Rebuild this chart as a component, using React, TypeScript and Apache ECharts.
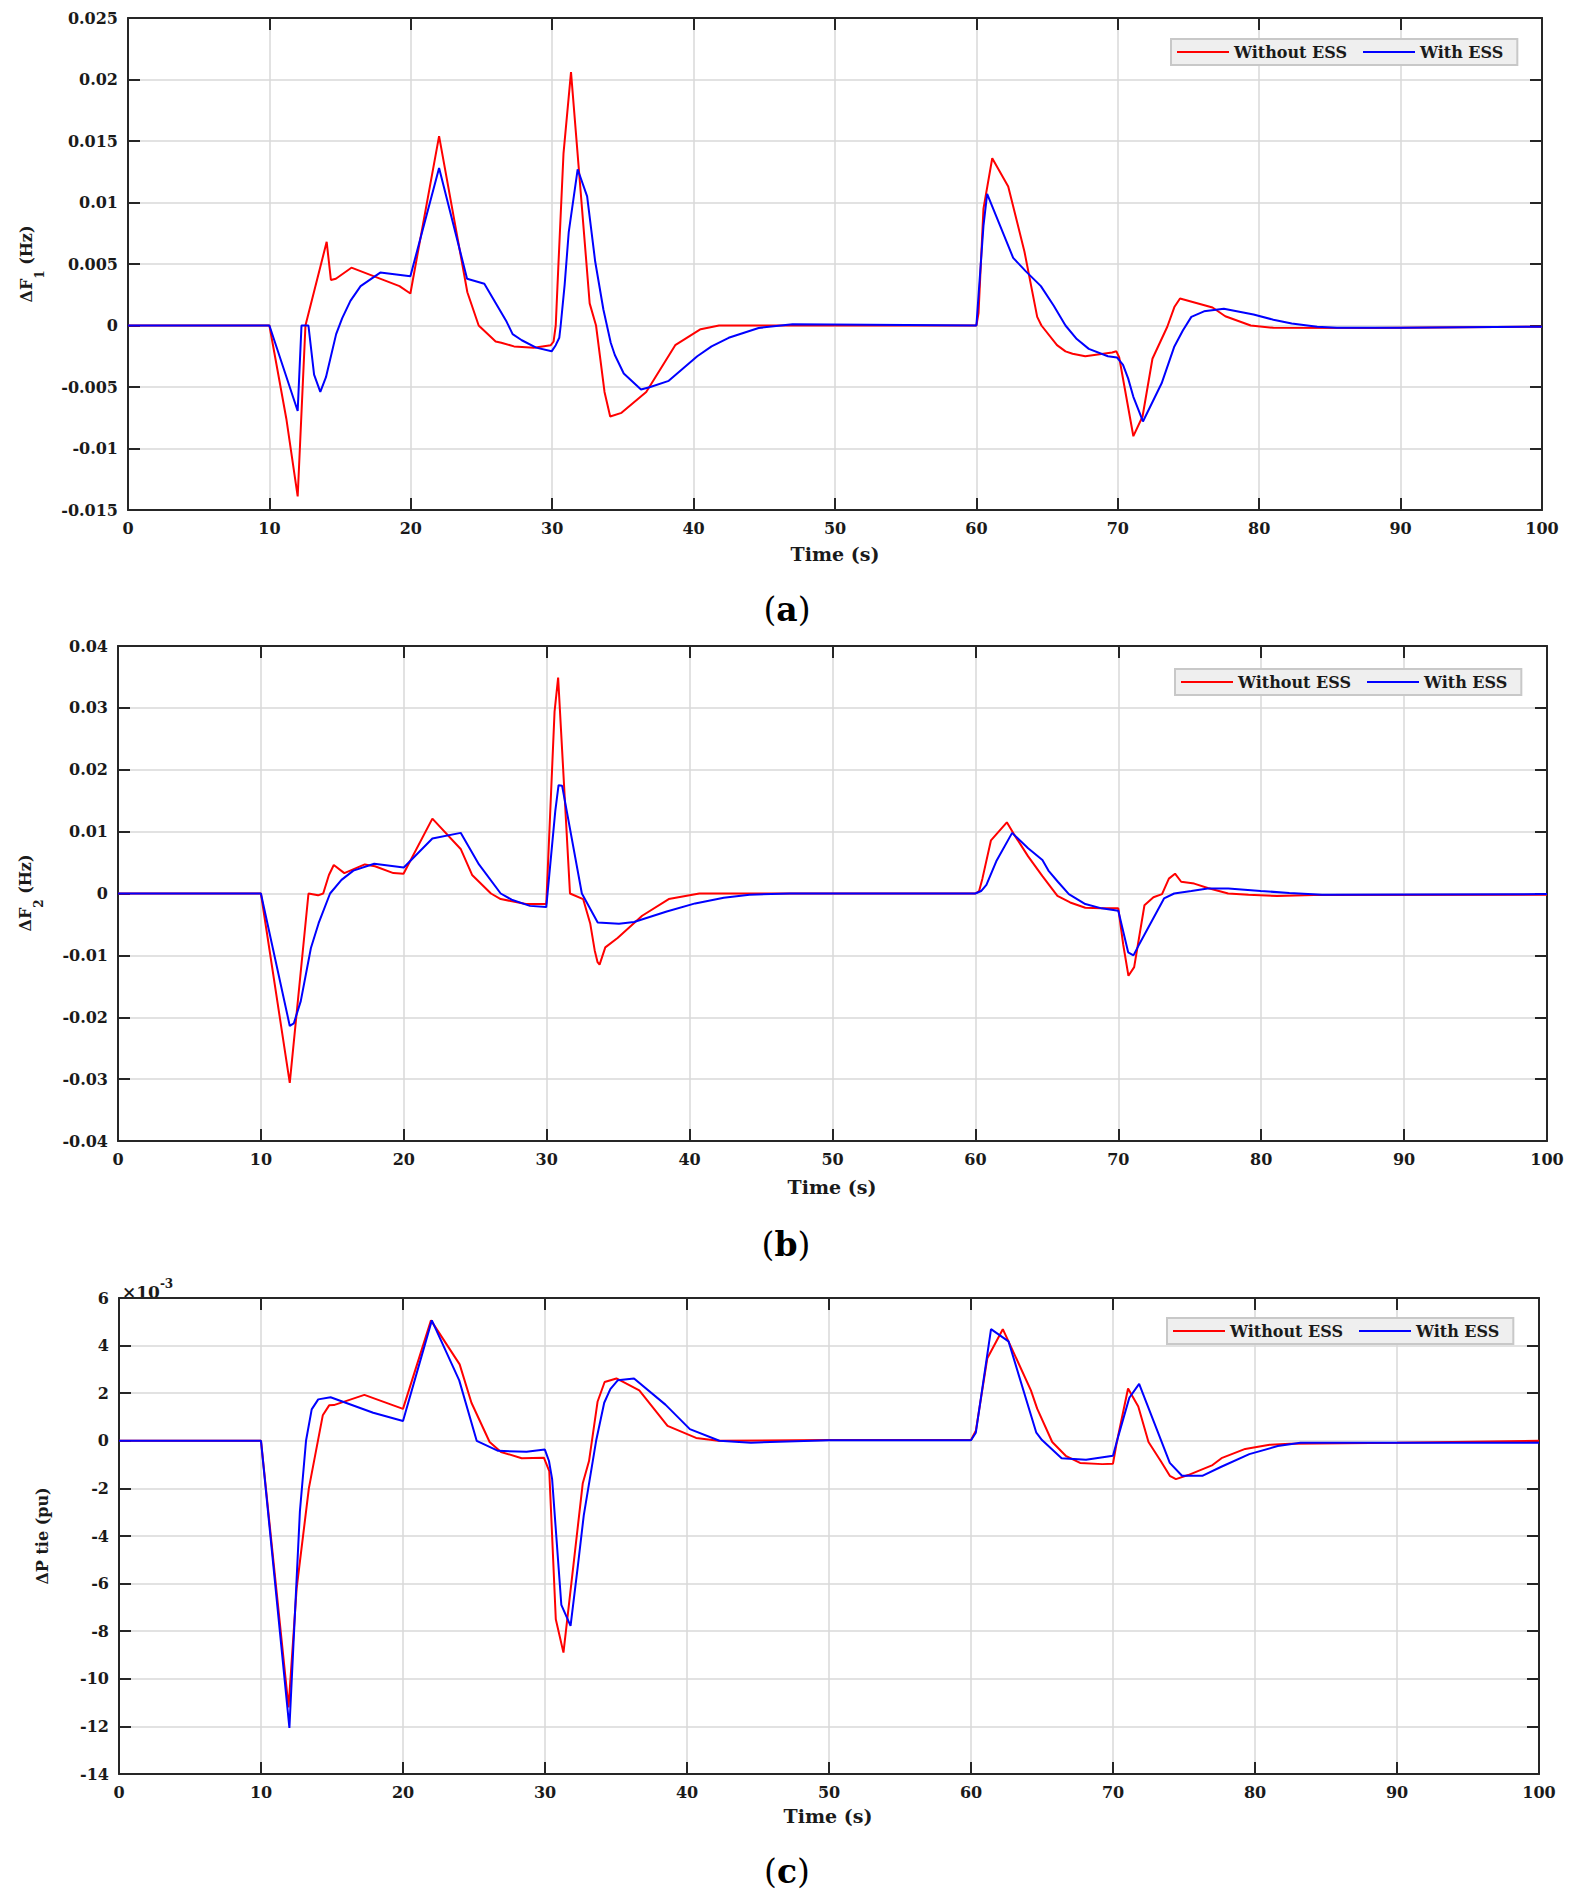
import React, { useEffect, useRef } from "react";
import * as echarts from "echarts";

// ---------- Data (time s, value) ----------
// (a) ΔF1 (Hz)
const f1WithoutEss: [number, number][] = [
  [0, 0], [10, 0], [11.2, -0.0076], [12.0, -0.0139], [12.55, 0], [14.05, 0.0068], [14.35, 0.0037],
  [14.7, 0.0038], [15.8, 0.0047], [19.2, 0.0032], [19.97, 0.0026], [22.0, 0.0154], [24.0, 0.0027],
  [24.8, 0.0], [26.0, -0.0013], [26.4, -0.0014], [27.3, -0.0017], [28.7, -0.0018], [29.9, -0.0016],
  [30.1, -0.0013], [30.25, 0], [30.43, 0.0047], [30.8, 0.014], [31.33, 0.0206], [32.65, 0.0018],
  [33.1, 0], [33.7, -0.0054], [34.1, -0.0074], [34.9, -0.0071], [36.65, -0.0054], [38.7, -0.0016],
  [40.5, -0.0003], [41.8, 0], [60, 0], [60.15, 0.001], [60.5, 0.0095], [61.12, 0.0136], [62.25, 0.0113],
  [63.4, 0.006], [64.3, 0.0007], [64.6, 0], [65.7, -0.0016], [66.3, -0.0021], [66.8, -0.0023],
  [67.7, -0.0025], [69.6, -0.0022], [69.9, -0.0021], [70.1, -0.0026], [71.1, -0.009], [71.75, -0.0074],
  [72.45, -0.0027], [73.5, -0.0001], [74.0, 0.0015], [74.4, 0.0022], [76.7, 0.00146], [77.6, 0.00075],
  [79.4, 0], [81.0, -0.00019], [88, -0.0002], [100, -0.0001],
];
const f1WithEss: [number, number][] = [
  [0, 0], [10, 0], [12.0, -0.00695], [12.27, 0], [12.76, 0], [13.16, -0.004], [13.6, -0.0054],
  [14.0, -0.0042], [14.72, -0.0007], [15.15, 0.0006], [15.73, 0.002], [16.45, 0.0032], [17.84, 0.0043],
  [19.97, 0.004], [22.0, 0.0128], [23.98, 0.0038], [25.2, 0.0034], [26.78, 0.0003], [27.2, -0.0007],
  [27.85, -0.0012], [28.86, -0.0018], [29.96, -0.0021], [30.25, -0.0016], [30.5, -0.001], [30.6, 0],
  [30.88, 0.0033], [31.17, 0.0076], [31.8, 0.0127], [32.47, 0.0105], [33.04, 0.0052], [33.62, 0.0013],
  [34.14, -0.0014], [34.43, -0.0024], [35.06, -0.0039], [36.28, -0.0052], [36.94, -0.005],
  [38.24, -0.0045], [39.25, -0.0035], [40.26, -0.0025], [41.27, -0.0017], [42.48, -0.001],
  [44.6, -0.0002], [47, 0.0001], [55, 0.00005], [60, 0], [60.5, 0.0081], [60.76, 0.0107],
  [62.6, 0.0055], [63.5, 0.0044], [64.56, 0.0032], [65.47, 0.0016], [66.3, 0], [67.1, -0.0011],
  [67.95, -0.0019], [69.3, -0.0025], [69.94, -0.0026], [70.37, -0.0032], [70.73, -0.0043],
  [71.1, -0.0058], [71.78, -0.0078], [73.1, -0.0047], [74.0, -0.0017], [74.6, -0.0004], [75.2, 0.0007],
  [76.1, 0.00115], [77.5, 0.00137], [79.6, 0.0009], [81.0, 0.00047], [82.3, 0.00016], [84.1, -0.0001],
  [85.5, -0.00019], [90, -0.00018], [100, -0.0001],
];

// (b) ΔF2 (Hz)
const f2WithoutEss: [number, number][] = [
  [0, 0], [10, 0], [12.02, -0.0306], [13.33, 0], [14.0, -0.0003], [14.36, 0], [14.76, 0.003],
  [15.1, 0.0046], [15.84, 0.0033], [17.27, 0.0047], [17.98, 0.0044], [19.27, 0.0033], [19.98, 0.0032],
  [22.0, 0.0121], [23.98, 0.0072], [24.78, 0.003], [26.1, 0], [26.78, -0.0009], [28.55, -0.0017],
  [29.97, -0.0017], [30.55, 0.0294], [30.8, 0.0349], [31.63, 0], [32.55, -0.0009], [33.05, -0.0049],
  [33.36, -0.0092], [33.56, -0.0111], [33.7, -0.0115], [34.1, -0.0087], [34.96, -0.0072],
  [36.68, -0.0036], [38.54, -0.0009], [40.68, 0], [60, 0], [60.26, 0.0004], [60.49, 0.0024],
  [61.09, 0.0086], [62.2, 0.0115], [62.69, 0.0096], [63.69, 0.006], [64.69, 0.0028], [65.74, -0.0004],
  [66.63, -0.00145], [67.69, -0.0023], [68.83, -0.0024], [70.0, -0.0024], [70.34, -0.0082],
  [70.71, -0.0133], [71.11, -0.0119], [71.83, -0.0019], [72.46, -0.0006], [73.06, -0.0001],
  [73.54, 0.0024], [73.97, 0.0032], [74.4, 0.0019], [75.31, 0.0016], [76.26, 0.0009], [77.69, 0],
  [79.11, -0.0002], [81.11, -0.0004], [83.7, -0.00026], [100, -0.0002],
];
const f2WithEss: [number, number][] = [
  [0, 0], [10, 0], [12.02, -0.0214], [12.3, -0.021], [12.79, -0.0174], [13.5, -0.0088], [14.04, -0.0048],
  [14.84, 0], [15.64, 0.0022], [16.47, 0.0037], [17.93, 0.0048], [20.0, 0.0042], [22.0, 0.0089],
  [23.98, 0.0098], [25.26, 0.0047], [26.78, 0], [27.55, -0.001], [28.83, -0.002], [29.97, -0.0022],
  [30.6, 0.0133], [30.83, 0.0175], [31.08, 0.0174], [32.46, 0], [33.57, -0.0047], [35.06, -0.0049],
  [36.11, -0.0046], [38.4, -0.0029], [40.39, -0.0016], [42.39, -0.0007], [44.19, -0.0002], [47, 0],
  [60, 0], [60.4, 0.0004], [60.77, 0.0014], [61.46, 0.0052], [62.57, 0.0098], [63.69, 0.0073],
  [64.69, 0.0054], [65.11, 0.0037], [65.77, 0.0019], [66.54, -0.0001], [67.69, -0.0017],
  [68.83, -0.0024], [70.0, -0.0028], [70.69, -0.0095], [71.06, -0.01], [71.4, -0.0085],
  [73.2, -0.0008], [73.91, 0], [75.11, 0.0004], [76.26, 0.0008], [77.7, 0.0008], [79.97, 0.0004],
  [81.97, 0.0001], [84.26, -0.0002], [100, -0.0001],
];

// (c) ΔP tie (pu), in units of 1e-3
const ptieWithoutEss: [number, number][] = [
  [0, 0], [10, 0], [11.94, -11.2], [12.51, -6.2], [13.37, -2.0], [14.35, 1.07], [14.8, 1.49],
  [15.13, 1.5], [17.28, 1.93], [20.0, 1.34], [21.97, 5.06], [23.99, 3.21], [24.82, 1.6], [26.1, -0.05],
  [26.9, -0.47], [28.36, -0.73], [29.92, -0.71], [30.3, -1.27], [30.76, -7.5], [31.3, -8.9],
  [32.66, -1.78], [33.1, -0.85], [33.7, 1.64], [34.2, 2.47], [35.03, 2.62], [36.64, 2.12],
  [38.63, 0.63], [40.64, 0.12], [42.2, 0], [50, 0.03], [60, 0.03], [60.34, 0.42], [61.15, 3.47],
  [62.24, 4.69], [62.64, 4.18], [64.22, 2.12], [64.66, 1.35], [65.72, -0.05], [66.67, -0.63],
  [67.68, -0.93], [69.25, -0.98], [70.0, -0.96], [70.26, -0.08], [71.06, 2.2], [71.78, 1.44],
  [72.5, -0.05], [73.36, -0.85], [74.0, -1.47], [74.43, -1.61], [75.29, -1.44], [77.01, -1.02],
  [77.64, -0.73], [79.31, -0.34], [81.03, -0.17], [82.47, -0.12], [90, -0.08], [100, 0],
];
const ptieWithEss: [number, number][] = [
  [0, 0], [10, 0], [12.0, -12.06], [12.74, -2.96], [13.17, 0], [13.57, 1.32], [14.03, 1.74],
  [14.9, 1.83], [17.9, 1.18], [20.0, 0.83], [22.03, 5.06], [23.96, 2.54], [25.19, 0], [26.7, -0.42],
  [28.7, -0.46], [29.99, -0.37], [30.28, -0.85], [30.5, -1.6], [31.15, -6.89], [31.8, -7.78],
  [32.3, -5.33], [32.73, -3.13], [33.6, 0], [34.17, 1.6], [34.6, 2.17], [35.12, 2.54], [36.27, 2.62],
  [38.48, 1.52], [40.2, 0.49], [42.28, 0], [44.5, -0.08], [50, 0.02], [60, 0.02], [60.34, 0.34],
  [61.41, 4.69], [62.64, 4.18], [64.6, 0.34], [65.0, 0.03], [66.38, -0.73], [68.1, -0.8],
  [70.0, -0.63], [70.4, 0.25], [71.15, 1.81], [71.84, 2.39], [74.0, -0.93], [74.86, -1.47],
  [76.29, -1.47], [77.59, -1.1], [79.6, -0.56], [81.6, -0.22], [83.2, -0.08], [100, -0.08],
];

const seriesNames = ["Without ESS", "With ESS"];
const panelLabels = ["a", "b", "c"];
const yRanges = [
  { min: -0.015, max: 0.025, interval: 0.005 },
  { min: -0.04, max: 0.04, interval: 0.01 },
  { min: -14, max: 6, interval: 2 },
];
const xRange = { min: 0, max: 100, interval: 10 };

const FONT = '"DejaVu Serif", "Liberation Serif", serif';
const TXT = "#1a1a1a";
const AXC = "#262626";
const GRIDC = "#d9d9d9";
const RED = "#ff0000";
const BLUE = "#0000ff";

export default function App() {
  const ref = useRef<HTMLDivElement>(null);
  useEffect(() => {
    if (!ref.current) return;
    const chart = echarts.init(ref.current, undefined, { renderer: "svg" });

    const grids = [
      { left: 128, top: 18, width: 1414, height: 492 },
      { left: 118, top: 646, width: 1429, height: 495 },
      { left: 119, top: 1298, width: 1420, height: 476 },
    ];
    const legendPos = [
      { left: 1171, top: 39 },
      { left: 1175, top: 669 },
      { left: 1167, top: 1318 },
    ];
    const xNamePos = [
      [835, 554],
      [832, 1187],
      [828, 1816],
    ];
    const panelPos = [
      [787, 609],
      [786, 1244],
      [787, 1871],
    ];
    const data = [
      [f1WithoutEss, f1WithEss],
      [f2WithoutEss, f2WithEss],
      [ptieWithoutEss, ptieWithEss],
    ];

    const lineAxis = { show: true, onZero: false, lineStyle: { color: AXC, width: 2 } };
    const tick = { show: true, inside: true, length: 12, lineStyle: { color: AXC, width: 2 } };
    const labelStyle = { fontFamily: FONT, fontWeight: "bold", fontSize: 16, color: TXT };
    const fmtY = (v: number) => String(Math.round(v * 10000) / 10000);

    const xAxis: any[] = [];
    const yAxis: any[] = [];
    const series: any[] = [];
    const legend: any[] = [];
    const graphic: any[] = [];

    grids.forEach((g, i) => {
      xAxis.push({
        type: "value", gridIndex: i, position: "bottom", ...xRange,
        axisLine: lineAxis, axisTick: tick,
        axisLabel: { ...labelStyle, margin: 10 },
        splitLine: { show: true, lineStyle: { color: GRIDC, width: 1.5 } },
      });
      xAxis.push({
        type: "value", gridIndex: i, position: "top", ...xRange,
        axisLine: lineAxis, axisTick: tick,
        axisLabel: { show: false }, splitLine: { show: false },
      });
      yAxis.push({
        type: "value", gridIndex: i, position: "left", ...yRanges[i],
        axisLine: lineAxis, axisTick: tick,
        axisLabel: { ...labelStyle, margin: 10, formatter: fmtY },
        splitLine: { show: true, lineStyle: { color: GRIDC, width: 1.5 } },
      });
      yAxis.push({
        type: "value", gridIndex: i, position: "right", ...yRanges[i],
        axisLine: lineAxis, axisTick: tick,
        axisLabel: { show: false }, splitLine: { show: false },
      });
      [RED, BLUE].forEach((c, k) => {
        series.push({
          type: "line", name: seriesNames[k], xAxisIndex: 2 * i, yAxisIndex: 2 * i,
          data: data[i][k], showSymbol: false, symbol: "none", smooth: false,
          lineStyle: { color: c, width: 2 }, itemStyle: { color: c }, z: 2 + k,
        });
      });
      legend.push({
        ...legendPos[i], orient: "horizontal", data: seriesNames, icon: "rect",
        itemWidth: 52, itemHeight: 2, itemGap: 16, selectedMode: false,
        textStyle: { fontFamily: FONT, fontWeight: "bold", fontSize: 16, color: TXT },
        backgroundColor: "#efefef", borderColor: "#c8c8c8", borderWidth: 2,
        padding: [5, 14, 5, 6], borderRadius: 0,
      });
      graphic.push({
        type: "text", x: xNamePos[i][0], y: xNamePos[i][1],
        style: {
          text: "Time (s)", font: `bold 19px ${FONT}`, fill: TXT,
          textAlign: "center", textVerticalAlign: "middle", align: "center", verticalAlign: "middle",
        },
      });
      graphic.push({
        type: "text", x: panelPos[i][0], y: panelPos[i][1],
        style: {
          text: `{p|(}{b|${panelLabels[i]}}{p|)}`,
          rich: {
            p: { fontFamily: FONT, fontSize: 33, fontWeight: "normal", fill: "#000" },
            b: { fontFamily: FONT, fontSize: 33, fontWeight: "bold", fill: "#000" },
          },
          textAlign: "center", textVerticalAlign: "middle", align: "center", verticalAlign: "middle",
        },
      });
    });

    const subLabel = (x: number, y: number, sub: string) => ({
      type: "text", x, y, rotation: Math.PI / 2,
      style: {
        text: `{m|ΔF}{s|${sub}}{m| (Hz)}`,
        rich: {
          m: { fontFamily: FONT, fontWeight: "bold", fontSize: 16, lineHeight: 16, verticalAlign: "top", fill: TXT },
          s: { fontFamily: FONT, fontWeight: "bold", fontSize: 12, lineHeight: 28, verticalAlign: "bottom", fill: TXT },
        },
        textAlign: "center", textVerticalAlign: "top", align: "center", verticalAlign: "top",
      },
    });
    graphic.push(subLabel(18, 264, "1"));
    graphic.push(subLabel(17, 893, "2"));
    graphic.push({
      type: "text", x: 42, y: 1536, rotation: Math.PI / 2,
      style: {
        text: "ΔP tie (pu)", font: `bold 16px ${FONT}`, fill: TXT,
        textAlign: "center", textVerticalAlign: "middle", align: "center", verticalAlign: "middle",
      },
    });
    graphic.push({
      type: "text", x: 122, y: 1278,
      style: {
        text: "{m|×10}{s|-3}",
        rich: {
          m: { fontFamily: FONT, fontWeight: "bold", fontSize: 17, lineHeight: 22, verticalAlign: "bottom", fill: TXT },
          s: { fontFamily: FONT, fontWeight: "bold", fontSize: 12, lineHeight: 8, verticalAlign: "top", fill: TXT },
        },
        textAlign: "left", textVerticalAlign: "top", align: "left", verticalAlign: "top",
      },
    });

    chart.setOption({
      animation: false,
      backgroundColor: "#ffffff",
      grid: grids,
      xAxis,
      yAxis,
      legend,
      series,
      graphic,
    });
    return () => chart.dispose();
  }, []);

  return (
    <div
      ref={ref}
      style={{ position: "absolute", left: 0, top: 0, width: 1576, height: 1902, background: "#fff" }}
    />
  );
}
